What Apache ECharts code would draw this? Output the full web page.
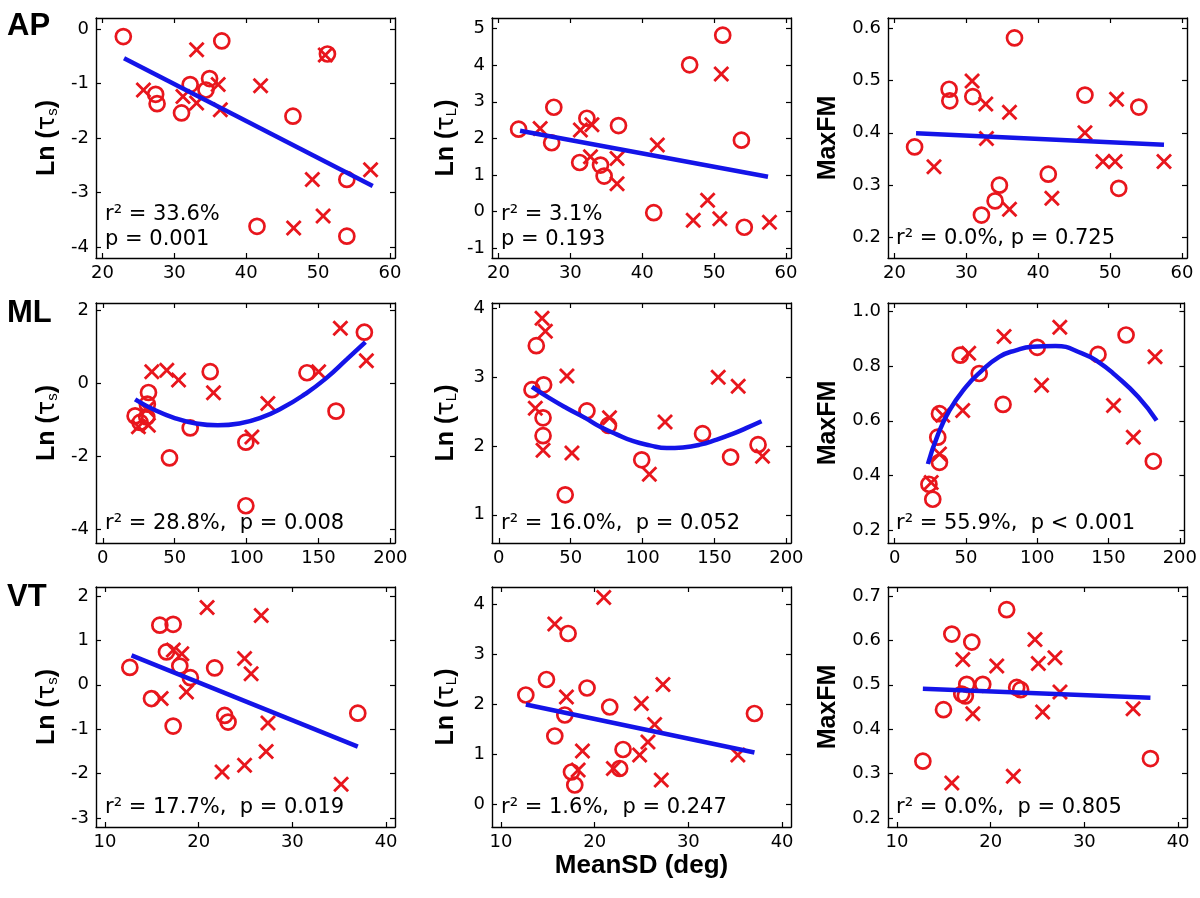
<!DOCTYPE html>
<html>
<head>
<meta charset="utf-8">
<title>MeanSD vs time constants</title>
<script src="https://cdn.jsdelivr.net/npm/echarts@6.0.0/dist/echarts.min.js"></script>
<style>
html, body { margin: 0; padding: 0; background: #fff; }
#main { width: 1200px; height: 898px; }
</style>
</head>
<body>
<div id="main"></div>
<script>
// tick labels
var apXTicks = [20, 30, 40, 50, 60];
var mlXTicks = [0, 50, 100, 150, 200];
var vtXTicks = [10, 20, 30, 40];
var apTauSTicks = [-4, -3, -2, -1, 0];
var apTauLTicks = [-1, 0, 1, 2, 3, 4, 5];
var apFMTicks = [0.2, 0.3, 0.4, 0.5, 0.6];
var mlTauSTicks = [-4, -2, 0, 2];
var mlTauLTicks = [1, 2, 3, 4];
var mlFMTicks = [0.2, 0.4, 0.6, 0.8, 1.0];
var vtTauSTicks = [-3, -2, -1, 0, 1, 2];
var vtTauLTicks = [0, 1, 2, 3, 4];
var vtFMTicks = [0.2, 0.3, 0.4, 0.5, 0.6, 0.7];

// AP row: [MeanSD, value]; _o = circles, _x = crosses, _fit = fitted curve
var apTauS_o = [[22.9,-0.14],[36.6,-0.22],[51.3,-0.46],[27.4,-1.20],[27.6,-1.37],[32.2,-1.02],[34.9,-0.91],[34.4,-1.12],[31.0,-1.54],[46.5,-1.60],[54.0,-2.76],[41.5,-3.62],[54.0,-3.80]];
var apTauS_x = [[33.1,-0.38],[51.0,-0.48],[25.7,-1.12],[36.1,-1.02],[42.0,-1.04],[31.2,-1.24],[33.1,-1.36],[36.4,-1.48],[57.3,-2.58],[49.2,-2.76],[50.7,-3.43],[46.6,-3.65]];
var apTauS_fit = [[23.0,-0.54],[57.6,-2.88]];

var apTauL_o = [[22.8,2.25],[27.7,2.85],[27.4,1.88],[32.3,2.55],[36.7,2.35],[31.3,1.34],[34.2,1.27],[34.7,0.97],[46.6,4.01],[51.2,4.82],[53.8,1.95],[41.6,-0.03],[54.2,-0.43]];
var apTauL_x = [[25.8,2.27],[31.4,2.23],[33.0,2.37],[32.8,1.50],[36.5,1.45],[36.5,0.76],[42.1,1.82],[51.0,3.76],[49.1,0.31],[47.1,-0.24],[50.8,-0.20],[57.7,-0.29]];
var apTauL_fit = [[23.0,2.21],[57.5,0.95]];

var apFM_o = [[22.8,0.373],[27.6,0.483],[27.7,0.461],[30.9,0.469],[36.7,0.581],[46.5,0.472],[54.0,0.449],[41.4,0.321],[51.2,0.294],[34.6,0.300],[34.0,0.270],[32.1,0.243]];
var apFM_x = [[30.8,0.499],[32.7,0.455],[36.0,0.439],[32.8,0.389],[25.5,0.335],[36.0,0.254],[41.9,0.275],[46.5,0.400],[50.9,0.464],[49.0,0.345],[50.7,0.345],[57.5,0.345]];
var apFM_fit = [[23.0,0.399],[57.5,0.377]];

// ML row
var mlTauS_o = [[22.5,-0.90],[26.0,-1.08],[30.6,-0.93],[31.0,-0.58],[31.8,-0.26],[46.4,-2.05],[60.8,-1.23],[74.7,0.31],[99.5,-1.62],[99.5,-3.36],[142.0,0.28],[162.2,-0.77],[181.9,1.39]];
var mlTauS_x = [[24.8,-1.20],[31.7,-1.16],[30.5,-0.72],[34.1,0.31],[44.5,0.35],[52.7,0.08],[77.0,-0.27],[103.7,-1.48],[114.8,-0.56],[150.1,0.31],[165.2,1.50],[183.3,0.61]];
var mlTauS_fit = [[22.5,-0.45],[35,-0.72],[50,-0.96],[65,-1.11],[80,-1.16],[95,-1.11],[110,-0.95],[125,-0.68],[140,-0.32],[155,0.12],[170,0.66],[182.6,1.12]];

var mlTauL_o = [[26.1,3.46],[23.1,2.82],[31.2,2.89],[30.8,2.41],[30.8,2.15],[46.2,1.29],[61.3,2.51],[76.3,2.30],[99.4,1.80],[141.7,2.18],[161.2,1.84],[180.3,2.02]];
var mlTauL_x = [[30.1,3.86],[32.4,3.67],[25.4,2.55],[30.8,1.94],[47.4,3.02],[50.9,1.90],[77.0,2.41],[104.7,1.59],[115.6,2.35],[152.6,3.00],[166.5,2.87],[183.4,1.85]];
var mlTauL_fit = [[23.1,2.86],[35,2.70],[47.4,2.55],[60,2.41],[70.5,2.28],[82,2.17],[93.6,2.07],[105,2.01],[116.8,1.97],[128,1.98],[139.9,2.02],[151,2.09],[163,2.18],[172,2.26],[182.7,2.36]];

var mlFM_o = [[46.0,0.840],[59.3,0.773],[76.0,0.660],[100.0,0.869],[142.6,0.843],[162.3,0.914],[181.4,0.452],[31.4,0.626],[30.2,0.540],[31.4,0.448],[24.0,0.368],[26.7,0.313]];
var mlFM_x = [[51.9,0.847],[76.7,0.908],[115.8,0.942],[103.0,0.730],[153.5,0.656],[167.4,0.540],[182.6,0.834],[47.7,0.638],[33.7,0.620],[31.4,0.479],[25.6,0.374]];
var mlFM_fit = [[23.3,0.442],[30,0.545],[38.4,0.638],[50,0.724],[60,0.778],[73.3,0.834],[85,0.858],[96.5,0.871],[112.8,0.874],[131.4,0.847],[143,0.815],[154.7,0.767],[170.9,0.687],[183.7,0.601]];

// VT row
var vtTauS_o = [[12.66,0.39],[15.86,1.34],[17.28,1.36],[16.57,0.74],[17.99,0.42],[19.12,0.16],[21.71,0.38],[14.97,-0.31],[17.28,-0.93],[22.78,-0.69],[23.14,-0.84],[36.98,-0.64]];
var vtTauS_x = [[20.9,1.74],[26.68,1.56],[17.3,0.78],[18.2,0.70],[24.9,0.59],[25.6,0.25],[16.0,-0.31],[18.7,-0.16],[27.4,-0.86],[27.2,-1.50],[22.5,-1.96],[24.9,-1.81],[35.2,-2.24]];
var vtTauS_fit = [[12.84,0.66],[36.98,-1.39]];

var vtTauL_o = [[12.66,2.19],[14.86,2.50],[17.17,3.42],[19.19,2.33],[21.61,1.95],[16.82,1.79],[15.75,1.37],[37.05,1.82],[23.03,1.10],[22.67,0.72],[17.53,0.65],[17.88,0.39]];
var vtTauL_x = [[20.97,4.14],[15.75,3.61],[16.99,2.15],[27.29,2.40],[24.98,2.02],[26.4,1.60],[25.69,1.25],[24.8,0.99],[18.7,1.07],[18.24,0.69],[22.0,0.72],[27.11,0.49],[35.28,0.99]];
var vtTauL_fit = [[12.66,2.0],[37.05,1.04]];

var vtFM_o = [[12.77,0.328],[15.86,0.614],[17.99,0.596],[21.71,0.669],[14.97,0.444],[17.45,0.501],[16.92,0.479],[17.3,0.475],[19.16,0.501],[22.78,0.494],[23.2,0.489],[37.05,0.334]];
var vtFM_x = [[17.03,0.557],[20.65,0.542],[24.73,0.602],[25.09,0.548],[26.86,0.561],[27.4,0.484],[25.55,0.439],[18.1,0.435],[15.86,0.279],[22.42,0.294],[35.2,0.446]];
var vtFM_fit = [[12.77,0.491],[37.05,0.471]];

var rowNames = ['AP', 'ML', 'VT'];

// layout
var colLeft = [96, 492, 888];
var rowTop = [18, 303, 587];
var W = 299, H = 240;
var RED = '#e8161d', BLUE = '#1414e8';
var TICK_FONT = 'DejaVu Sans';
var crossPath = 'path://M0,2L2,0L8,6L14,0L16,2L10,8L16,14L14,16L8,10L2,16L0,14L6,8Z';

var panels = [
    {o: apTauS_o, x: apTauS_x, fit: apTauS_fit, xr: [19.1, 60.7], xt: apXTicks, yr: [-4.2, 0.2], yt: apTauSTicks, dec: 0, yn: 's', stats: ['r² = 33.6%', 'p = 0.001']},
    {o: apTauL_o, x: apTauL_x, fit: apTauL_fit, xr: [19.1, 60.7], xt: apXTicks, yr: [-1.27, 5.29], yt: apTauLTicks, dec: 0, yn: 'L', stats: ['r² = 3.1%', 'p = 0.193']},
    {o: apFM_o, x: apFM_x, fit: apFM_fit, xr: [19.1, 60.7], xt: apXTicks, yr: [0.161, 0.619], yt: apFMTicks, dec: 1, yn: 'FM', stats: ['r² = 0.0%, p = 0.725']},
    {o: mlTauS_o, x: mlTauS_x, fit: mlTauS_fit, xr: [-4.7, 203.2], xt: mlXTicks, yr: [-4.38, 2.19], yt: mlTauSTicks, dec: 0, yn: 's', stats: ['r² = 28.8%,  p = 0.008']},
    {o: mlTauL_o, x: mlTauL_x, fit: mlTauL_fit, xr: [-4.7, 203.2], xt: mlXTicks, yr: [0.59, 4.08], yt: mlTauLTicks, dec: 0, yn: 'L', stats: ['r² = 16.0%,  p = 0.052']},
    {o: mlFM_o, x: mlFM_x, fit: mlFM_fit, xr: [-4.7, 203.2], xt: mlXTicks, yr: [0.153, 1.031], yt: mlFMTicks, dec: 1, yn: 'FM', stats: ['r² = 55.9%,  p < 0.001']},
    {o: vtTauS_o, x: vtTauS_x, fit: vtTauS_fit, xr: [9.05, 40.95], xt: vtXTicks, yr: [-3.2, 2.2], yt: vtTauSTicks, dec: 0, yn: 's', stats: ['r² = 17.7%,  p = 0.019']},
    {o: vtTauL_o, x: vtTauL_x, fit: vtTauL_fit, xr: [9.05, 40.95], xt: vtXTicks, yr: [-0.45, 4.35], yt: vtTauLTicks, dec: 0, yn: 'L', stats: ['r² = 1.6%,  p = 0.247']},
    {o: vtFM_o, x: vtFM_x, fit: vtFM_fit, xr: [9.05, 40.95], xt: vtXTicks, yr: [0.18, 0.72], yt: vtFMTicks, dec: 1, yn: 'FM', stats: ['r² = 0.0%,  p = 0.805']}
];

var nameRich = {
    b: {fontFamily: 'Liberation Sans', fontSize: 25, fontWeight: 'bold', color: '#000'},
    t: {fontFamily: 'DejaVu Sans', fontSize: 24, fontWeight: 'normal', color: '#000'},
    s: {fontFamily: 'Liberation Sans', fontSize: 15, fontWeight: 'normal', color: '#000', verticalAlign: 'bottom'}
};

var grids = [], xAxes = [], yAxes = [], series = [], graphics = [];

panels.forEach(function (p, i) {
    var row = Math.floor(i / 3), col = i % 3;
    grids.push({left: colLeft[col], top: rowTop[row], width: W, height: H});

    var dec = p.dec;
    var frame = {show: true, onZero: false, lineStyle: {color: '#000', width: 1.4}};
    var xTick = {show: true, inside: true, length: 5, customValues: p.xt, lineStyle: {color: '#000', width: 1.2}};
    var yTick = {show: true, inside: true, length: 5, customValues: p.yt, lineStyle: {color: '#000', width: 1.2}};

    var xb = {
        type: 'value', gridIndex: i, position: 'bottom', min: p.xr[0], max: p.xr[1],
        axisLine: frame, axisTick: xTick, splitLine: {show: false},
        axisLabel: {customValues: p.xt, margin: 6, color: '#000', fontFamily: TICK_FONT, fontSize: 18}
    };
    if (i === 7) {
        xb.name = 'MeanSD (deg)';
        xb.nameLocation = 'middle';
        xb.nameGap = 26;
        xb.nameTextStyle = {fontFamily: 'Liberation Sans', fontSize: 26, fontWeight: 'bold', color: '#000', verticalAlign: 'top'};
    }
    xAxes.push(xb);
    xAxes.push({
        type: 'value', gridIndex: i, position: 'top', min: p.xr[0], max: p.xr[1],
        axisLine: frame, axisTick: xTick, splitLine: {show: false}, axisLabel: {show: false}
    });

    var yName, gap;
    if (p.yn === 'FM') {
        yName = '{b|MaxFM}';
        gap = 47;
    } else {
        yName = '{b|Ln (}{t|τ}{s|' + p.yn + '}{b|)}';
        gap = col === 0 ? 36 : 33;
    }
    yAxes.push({
        type: 'value', gridIndex: i, position: 'left', min: p.yr[0], max: p.yr[1],
        axisLine: frame, axisTick: yTick, splitLine: {show: false},
        axisLabel: {
            customValues: p.yt, margin: 7, color: '#000', fontFamily: TICK_FONT, fontSize: 18,
            formatter: function (v) { return v.toFixed(dec); }
        },
        name: yName, nameLocation: 'middle', nameGap: gap, nameRotate: 90,
        nameTextStyle: {rich: nameRich}
    });
    yAxes.push({
        type: 'value', gridIndex: i, position: 'right', min: p.yr[0], max: p.yr[1],
        axisLine: frame, axisTick: yTick, splitLine: {show: false}, axisLabel: {show: false}
    });

    series.push({
        type: 'scatter', xAxisIndex: 2 * i, yAxisIndex: 2 * i, data: p.o,
        symbol: 'circle', symbolSize: 15,
        itemStyle: {color: 'rgba(0,0,0,0)', borderColor: RED, borderWidth: 2.7, opacity: 1}
    });
    series.push({
        type: 'scatter', xAxisIndex: 2 * i, yAxisIndex: 2 * i, data: p.x,
        symbol: crossPath, symbolSize: 16,
        itemStyle: {color: RED, opacity: 1}
    });
    series.push({
        type: 'line', xAxisIndex: 2 * i, yAxisIndex: 2 * i, data: p.fit,
        showSymbol: false, smooth: p.fit.length > 2,
        lineStyle: {color: BLUE, width: 4.5}
    });

    // r^2 / p annotations
    var bottom = rowTop[row] + H;
    var tx = colLeft[col] + (col === 2 ? 8 : 9);
    var ys = p.stats.length === 2 ? [bottom - 43, bottom - 18] : [bottom - 19];
    p.stats.forEach(function (s, k) {
        graphics.push({
            type: 'text', x: tx, y: ys[k], silent: true,
            style: {text: s, font: '21px "DejaVu Sans"', fill: '#000', verticalAlign: 'middle', align: 'left'}
        });
    });
});

var labelY = [26, 313, 597];
rowNames.forEach(function (t, r) {
    graphics.push({
        type: 'text', x: 7, y: labelY[r], silent: true,
        style: {text: t, font: 'bold 31px "Liberation Sans"', fill: '#000', verticalAlign: 'middle', align: 'left'}
    });
});

var chart = echarts.init(document.getElementById('main'));
chart.setOption({
    backgroundColor: '#fff',
    animation: false,
    grid: grids,
    xAxis: xAxes,
    yAxis: yAxes,
    series: series,
    graphic: graphics
});
</script>
</body>
</html>
